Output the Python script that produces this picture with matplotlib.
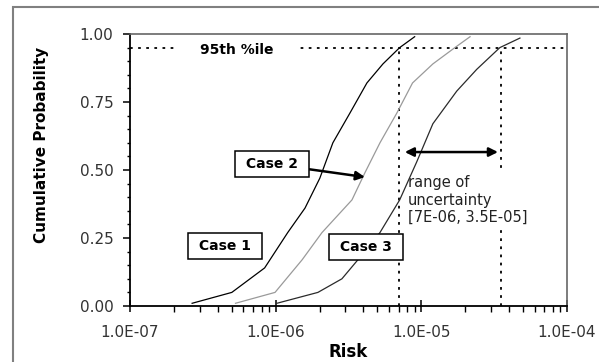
import matplotlib
matplotlib.use("Agg")
import matplotlib.pyplot as plt
from matplotlib.patches import Rectangle
from matplotlib.ticker import FixedLocator, LogLocator, FuncFormatter, NullFormatter

# ---- data ----
case1_risk = [2.67e-7, 5.0e-7, 8.4e-7, 1.21e-6, 1.59e-6, 2.01e-6, 2.47e-6, 3.24e-6, 4.23e-6, 5.45e-6, 7.1e-6, 9.0e-6]
case1_prob = [0.01, 0.05, 0.14, 0.27, 0.36, 0.47, 0.60, 0.71, 0.82, 0.89, 0.95, 0.99]

case2_risk = [5.3e-7, 9.9e-7, 1.52e-6, 2.08e-6, 3.34e-6, 4.1e-6, 5.2e-6, 6.8e-6, 8.7e-6, 1.2e-5, 1.7e-5, 2.16e-5]
case2_prob = [0.01, 0.05, 0.17, 0.27, 0.39, 0.49, 0.60, 0.71, 0.82, 0.89, 0.95, 0.99]

case3_risk = [1.02e-6, 1.95e-6, 2.85e-6, 3.67e-6, 5.2e-6, 7.1e-6, 9.3e-6, 1.2e-5, 1.75e-5, 2.4e-5, 3.46e-5, 4.75e-5]
case3_prob = [0.01, 0.05, 0.10, 0.17, 0.27, 0.39, 0.53, 0.67, 0.79, 0.87, 0.95, 0.985]

percentile_level = 0.95
uncertainty_range = [7e-6, 3.5e-5]
x_limits = [1e-7, 1e-4]
y_ticks = [0.0, 0.25, 0.5, 0.75, 1.0]
y_tick_labels = ["0.00", "0.25", "0.50", "0.75", "1.00"]

plt.rcParams['font.family'] = ['DejaVu Sans']

W, H = 599, 362
fig = plt.figure(figsize=(W / 100, H / 100), dpi=100)
fig.patch.set_facecolor('white')

# outer chart frame (cropped at right/bottom in reference)
fig.add_artist(Rectangle((13 / W, -0.1), 1.2, 1 - 7 / H + 0.1, transform=fig.transFigure,
                         fill=False, edgecolor='#808080', lw=1.5))

ax = fig.add_axes([130 / W, 1 - 306 / H, (567 - 130) / W, (306 - 34) / H])
ax.set_xscale('log')
ax.set_xlim(*x_limits)
ax.set_ylim(0, 1)

# curves
ax.plot(case1_risk, case1_prob, color='black', lw=0.9, zorder=4)
ax.plot(case2_risk, case2_prob, color='#9a9a9a', lw=0.9, zorder=4)
ax.plot(case3_risk, case3_prob, color='#2a2a2a', lw=0.9, zorder=4)

# 95th percentile line and verticals
dot = (0, (1.5, 3))
ax.axhline(percentile_level, color='black', lw=1.3, ls=dot, zorder=1)
ax.plot([uncertainty_range[0]] * 2, [0, percentile_level], color='black', lw=1.3, ls=dot, zorder=1)
ax.plot([uncertainty_range[1]] * 2, [0, percentile_level], color='black', lw=1.3, ls=dot, zorder=1)

ax.text(5.4e-7, 0.94, "95th %ile", fontsize=10, fontweight='bold', ha='center', va='center',
        bbox=dict(boxstyle='square,pad=1.6', fc='white', ec='none'), zorder=1.5, clip_on=True)

# range of uncertainty
ax.annotate("", xy=(uncertainty_range[0] * 1.1, 0.566), xytext=(uncertainty_range[1] * 0.96, 0.566),
            arrowprops=dict(arrowstyle='<|-|>', color='black', lw=1.8, mutation_scale=13,
                            shrinkA=0, shrinkB=0), zorder=5)
ax.text(8.1e-6, 0.48, "range of\nuncertainty\n[7E-06, 3.5E-05]", fontsize=10.5, color='#222222',
        ha='left', va='top', linespacing=1.2,
        bbox=dict(boxstyle='square,pad=0.15', fc='white', ec='none'), zorder=2)

# case labels
box = dict(boxstyle='square,pad=0.45', fc='white', ec='black', lw=1.1)
ax.text(4.5e-7, 0.22, " Case 1 ", fontsize=10, fontweight='bold', ha='center', va='center', bbox=box, zorder=6)
ax.text(4.17e-6, 0.217, " Case 3 ", fontsize=10, fontweight='bold', ha='center', va='center', bbox=box, zorder=6)
ax.annotate(" Case 2 ", xy=(4.1e-6, 0.474), xytext=(9.4e-7, 0.522), fontsize=10, fontweight='bold',
            ha='center', va='center', bbox=box, zorder=6,
            arrowprops=dict(arrowstyle='-|>', color='black', lw=1.8, mutation_scale=13,
                            shrinkA=0, shrinkB=0))

# axes styling
ax.yaxis.set_major_locator(FixedLocator(y_ticks))
ax.set_yticklabels(y_tick_labels)
ax.yaxis.set_minor_locator(FixedLocator([i * 0.05 for i in range(21)]))
ax.xaxis.set_major_locator(LogLocator(base=10, numticks=10))
ax.xaxis.set_minor_locator(LogLocator(base=10, subs=range(2, 10), numticks=20))
ax.xaxis.set_major_formatter(FuncFormatter(lambda v, p: f"{v:.1E}"))
ax.xaxis.set_minor_formatter(NullFormatter())

ax.tick_params(axis='y', which='major', direction='out', length=5, width=1.1, pad=7,
               labelsize=11, labelcolor='#333333')
ax.tick_params(axis='y', which='minor', direction='out', length=2.5, width=1.0)
ax.tick_params(axis='x', which='major', direction='inout', length=9, width=1.1, pad=9,
               labelsize=11, labelcolor='#333333')
ax.tick_params(axis='x', which='minor', direction='out', length=4, width=1.0)

for s in ['left', 'bottom']:
    ax.spines[s].set_color('black')
    ax.spines[s].set_linewidth(1.3)
for s in ['top', 'right']:
    ax.spines[s].set_color('#666666')
    ax.spines[s].set_linewidth(1.2)

fig.text(42 / W, 1 - 145 / H, "Cumulative Probability", rotation=90, fontsize=11, fontweight='bold',
         ha='center', va='center')
fig.text(348 / W, 1 - 352 / H, "Risk", fontsize=12, fontweight='bold', ha='center', va='center')

fig.savefig("out.png", dpi=100, facecolor='white')
